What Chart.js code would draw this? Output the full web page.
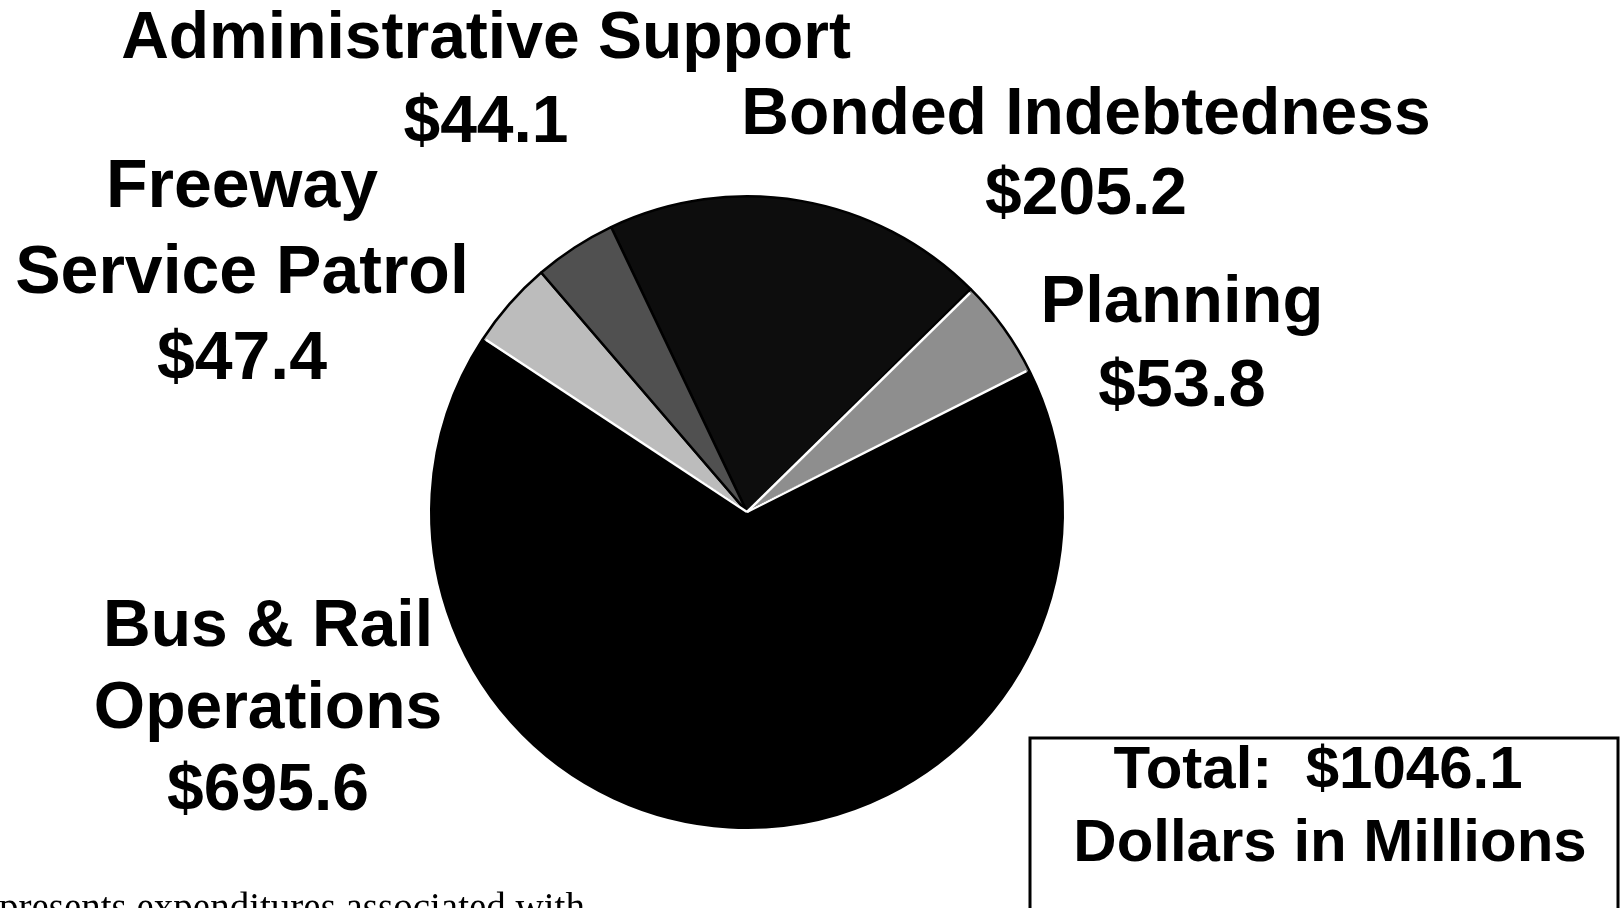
<!DOCTYPE html>
<html>
<head>
<meta charset="utf-8">
<script src="https://cdn.jsdelivr.net/npm/chart.js@4/dist/chart.umd.min.js"></script>
<style>
  html, body { margin: 0; padding: 0; background: #fff; overflow: hidden; }
  #wrap { position: relative; width: 1623px; height: 908px; }
  canvas { position: absolute; left: 0; top: 0; }
</style>
</head>
<body>
<div id="wrap"><canvas id="c" width="1623" height="908"></canvas></div>
<script>
// Expenditure categories, dollars in millions
const categories = ['Bonded Indebtedness', 'Planning', 'Bus & Rail Operations', 'Freeway Service Patrol', 'Administrative Support'];
const amounts = [205.2, 53.8, 695.6, 47.4, 44.1];
const sliceColors = ['#0d0d0d', '#8e8e8e', '#000000', '#bcbcbc', '#505050'];
const totalLabel = 'Total:  $1046.1';
const unitsLabel = 'Dollars in Millions';
const footText = 'presents expenditures associated with';

// Label lines per slice; the dollar line comes from the amounts array
const labelLines = [
  ['Bonded Indebtedness'],
  ['Planning'],
  ['Bus & Rail', 'Operations'],
  ['Freeway', 'Service Patrol'],
  ['Administrative Support']
];
// Where each label block is centred (x), the baseline of its first line, line gap and type size
const labelSpots = [
  { x: 1086, y: 134, gap: 80, size: 66 },
  { x: 1182, y: 322, gap: 84, size: 67 },
  { x: 268, y: 646, gap: 82, size: 66 },
  { x: 242, y: 207, gap: 86, size: 68 },
  { x: 486, y: 58, gap: 84, size: 66 }
];

const boldFont = s => 'bold ' + s + 'px "Liberation Sans", Arial, sans-serif';

const labelPlugin = {
  id: 'sliceLabels',
  afterDatasetsDraw(chart) {
    // thin light seams along the edges of the pale slices
    const arcs = chart.getDatasetMeta(0).data;
    const ctx = chart.ctx;
    ctx.save();
    ctx.strokeStyle = '#ffffff';
    ctx.lineWidth = 2.5;
    [[3, 'startAngle', 1], [1, 'endAngle', -1], [1, 'startAngle', 1]].forEach(([i, key, dir]) => {
      const a = arcs[i];
      const ang = a[key] + dir * 0.007;
      ctx.beginPath();
      ctx.moveTo(a.x, a.y);
      ctx.lineTo(a.x + Math.cos(ang) * (a.outerRadius - 3), a.y + Math.sin(ang) * (a.outerRadius - 3));
      ctx.stroke();
    });
    ctx.restore();
  },
  afterDraw(chart) {
    const ctx = chart.ctx;
    ctx.save();
    ctx.fillStyle = '#000';
    ctx.textAlign = 'center';
    ctx.textBaseline = 'alphabetic';
    amounts.forEach((v, i) => {
      const lines = labelLines[i].concat(['$' + v.toFixed(1)]);
      const s = labelSpots[i];
      ctx.font = boldFont(s.size);
      lines.forEach((t, k) => ctx.fillText(t, s.x, s.y + k * s.gap));
    });

    // Total box
    ctx.lineWidth = 3;
    ctx.strokeStyle = '#000';
    ctx.strokeRect(1030, 738, 588, 200);
    ctx.font = boldFont(60);
    ctx.fillText(totalLabel, 1318, 788);
    ctx.fillText(unitsLabel, 1330, 861);

    // Running note along the bottom edge
    ctx.textAlign = 'left';
    ctx.font = '39px "Liberation Serif", "Times New Roman", serif';
    ctx.fillText(footText, -1, 920);
    ctx.restore();
  }
};

new Chart(document.getElementById('c'), {
  type: 'pie',
  data: {
    labels: categories,
    datasets: [{
      data: amounts,
      backgroundColor: sliceColors,
      borderColor: '#000',
      borderWidth: 2.5
    }]
  },
  options: {
    responsive: false,
    animation: false,
    rotation: -25.5,
    layout: { padding: { left: 430, right: 559, top: 195, bottom: 79 } },
    plugins: {
      legend: { display: false },
      tooltip: { enabled: false }
    }
  },
  plugins: [labelPlugin]
});
</script>
</body>
</html>
